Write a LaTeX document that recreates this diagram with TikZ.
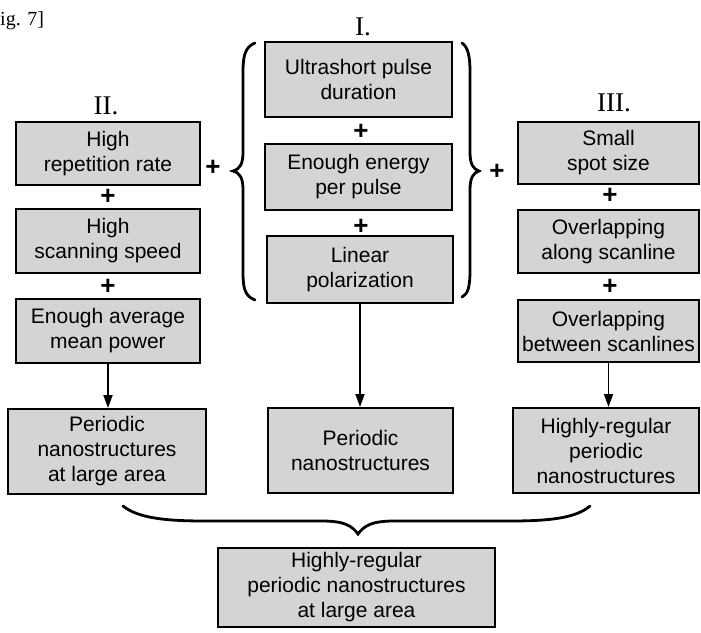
\documentclass[tikz,border=0pt]{standalone}
\usepackage{fontspec}
\setmainfont{Liberation Sans}
\newfontfamily\romfont{Liberation Serif}
\usetikzlibrary{arrows.meta}
\begin{document}
\begin{tikzpicture}[x=1pt,y=-1pt,
  box/.style 2 args={draw=black, line width=2pt, fill=black!17, inner sep=0pt,
     minimum width=#1pt, minimum height=#2pt, align=center,
     font=\fontsize{21}{25}\selectfont},
  plus/.style={font=\fontsize{26}{26}\selectfont\bfseries, inner sep=0pt},
  roman/.style={font=\romfont\fontsize{27}{27}\selectfont, inner sep=0pt},
  arr/.style={line width=1.8pt, -{Triangle[length=13pt,width=9pt]}},
  brace/.style={line width=2.8pt, line cap=round}]
\useasboundingbox (0,0) rectangle (701,632);
% caption
\node[font=\romfont\fontsize{20}{20}\selectfont, anchor=west, inner sep=0pt] (fig) at (0,21) {ig. 7]};
% labels
\node[roman] (lI) at (363,27) {I.};
\node[roman] (lII) at (106,106) {II.};
\node[roman] (lIII) at (614,103) {III.};
% column II
\node[box={184}{63}] (A1) at (108,153.5) {High\\repetition rate};
\node[box={184}{64}] (A2) at (108,241) {High\\scanning speed};
\node[box={184}{64}] (A3) at (108,331) {Enough average\\mean power};
\node[box={198}{85}] (A4) at (107,451.5) {Periodic\\nanostructures\\at large area};
% column I
\node[box={187}{75}] (B1) at (358.5,79.5) {Ultrashort pulse\\duration};
\node[box={187}{66}] (B2) at (358.5,177) {Enough energy\\per pulse};
\node[box={186}{67}] (B3) at (360,269.5) {Linear\\polarization};
\node[box={185}{85}] (B4) at (360.5,450.5) {Periodic\\nanostructures};
% column III
\node[box={181}{62}] (C1) at (608.5,153) {Small\\spot size};
\node[box={181}{63}] (C2) at (608.5,241.5) {Overlapping\\along scanline};
\node[box={181}{62}] (C3) at (608.5,331) {Overlapping\\between scanlines};
\node[box={186}{85}] (C4) at (606,450.5) {Highly-regular\\periodic\\nanostructures};
% final
\node[box={277}{79}] (D) at (356.5,587.5) {Highly-regular\\periodic nanostructures\\at large area};
% plus signs
\node[plus] (pA1) at (108,197) {+};
\node[plus] (pA2) at (108,287) {+};
\node[plus] (pB1) at (361,132) {+};
\node[plus] (pB2) at (361,227) {+};
\node[plus] (pC1) at (610,196) {+};
\node[plus] (pC2) at (610,287) {+};
\node[plus] (pL) at (213,168) {+};
\node[plus] (pR) at (497,172) {+};
% arrows
\draw[arr] (A3.south) -- (A3.south |- A4.north);
\draw[arr] (B3.south) -- (B3.south |- B4.north);
\draw[arr] (C3.south) -- (C3.south |- C4.north);
% braces
\draw[brace] (255,43) .. controls (245,47) and (243,56) .. (243,72) -- (243,152)
  .. controls (243,164) and (240,169) .. (233,171)
  .. controls (240,173) and (243,178) .. (243,190) -- (243,272)
  .. controls (243,289) and (245,296) .. (255,300);
\draw[brace] (462,43) .. controls (468,47) and (470,56) .. (470,72) -- (470,152)
  .. controls (470,164) and (473,169) .. (479,171)
  .. controls (473,173) and (470,178) .. (470,190) -- (470,270)
  .. controls (470,287) and (468,294) .. (462,297);
\draw[brace] (123,506) .. controls (138,518) and (165,521) .. (205,521) -- (322,521)
  .. controls (345,521) and (352,526) .. (358,534)
  .. controls (364,526) and (371,521) .. (394,521) -- (510,521)
  .. controls (550,521) and (576,518) .. (590,506);
\end{tikzpicture}
\end{document}
